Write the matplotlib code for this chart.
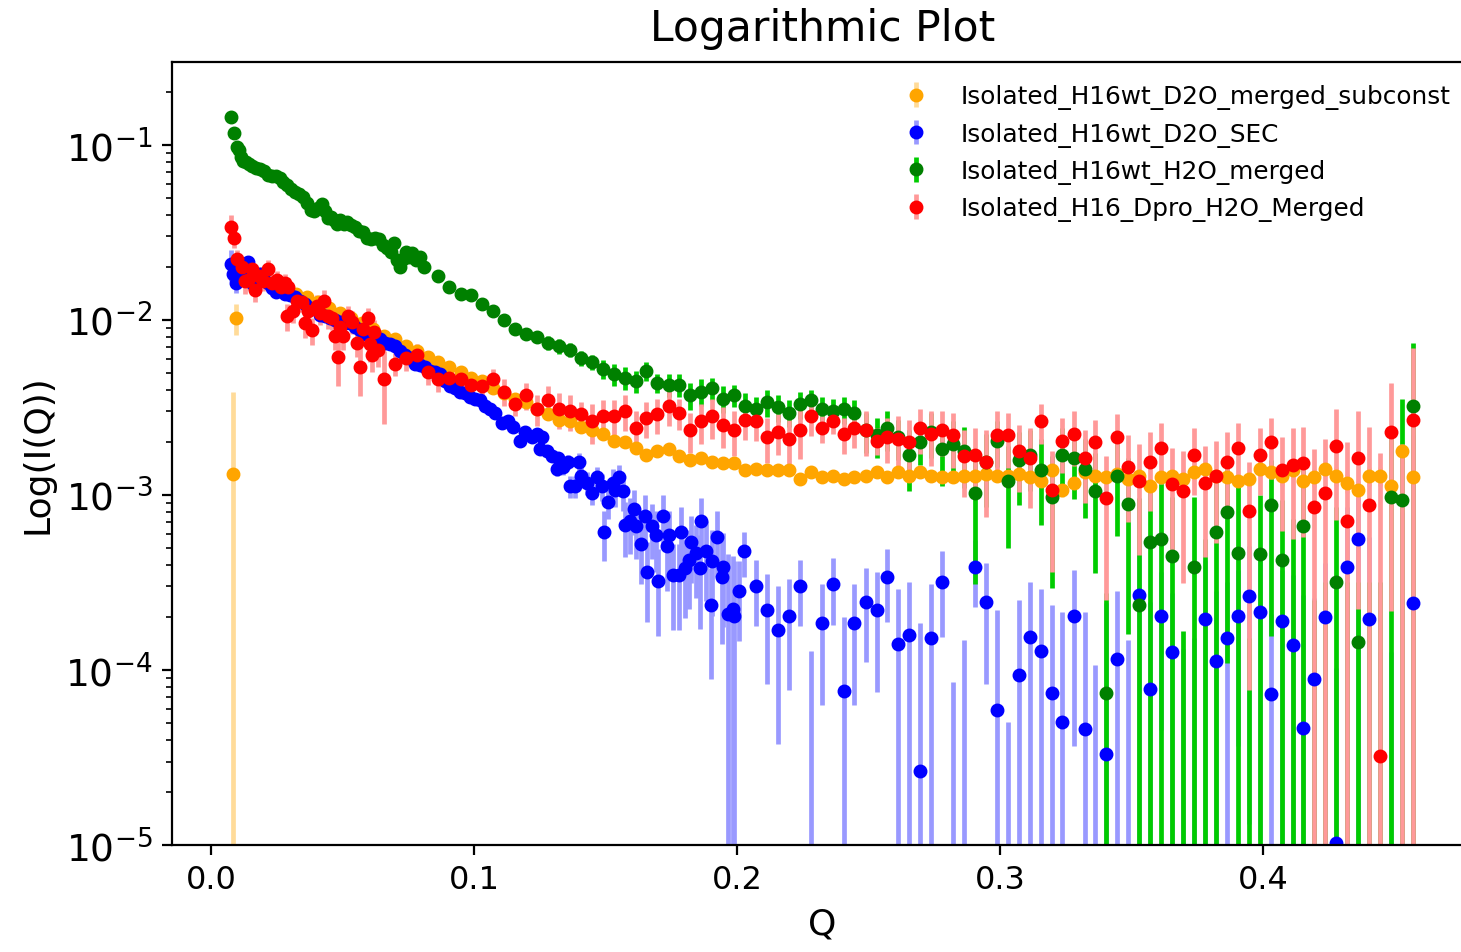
import numpy as np
import matplotlib
matplotlib.use("Agg")
import matplotlib.pyplot as plt

# shared Q grid used by all merged data sets (Q > ~0.01)
q_grid = [0.0116, 0.0158, 0.0199, 0.0241, 0.0283, 0.0324, 0.0366, 0.0408, 0.0449, 0.0491,
          0.0532, 0.0574, 0.0616, 0.0657, 0.0699, 0.0741, 0.0782, 0.0824, 0.0865, 0.0907,
          0.0949, 0.0990,
          0.1032, 0.1074, 0.1115, 0.1157, 0.1199, 0.1240, 0.1282, 0.1323, 0.1365, 0.1407,
          0.1448, 0.1490, 0.1532, 0.1573, 0.1615, 0.1656, 0.1698, 0.1740, 0.1781, 0.1823,
          0.1865, 0.1906, 0.1948, 0.1989, 0.2031, 0.2073, 0.2114, 0.2156, 0.2198, 0.2239,
          0.2281, 0.2323, 0.2364, 0.2406, 0.2447, 0.2489, 0.2531, 0.2572, 0.2614, 0.2656,
          0.2697, 0.2739, 0.2780, 0.2822, 0.2864, 0.2905, 0.2947, 0.2989, 0.3030, 0.3072,
          0.3114, 0.3155, 0.3197, 0.3238, 0.3280, 0.3322, 0.3363, 0.3405, 0.3447, 0.3488,
          0.3530, 0.3571, 0.3613, 0.3655, 0.3696, 0.3738, 0.3780, 0.3821, 0.3863, 0.3904,
          0.3946, 0.3988, 0.4029, 0.4071, 0.4113, 0.4154, 0.4196, 0.4237, 0.4279, 0.4321,
          0.4362, 0.4404, 0.4446, 0.4487, 0.4529, 0.4571]

# values are log10(I); "up" is the length of the upper error bar in decades
# (-6 = point below the plotted range, only its error bar shows)

# Isolated_H16wt_D2O_merged_subconst
orange_q = [0.0084, 0.0095] + q_grid
orange_log = [-2.88, -1.99,
              -1.72, -1.74, -1.77, -1.79, -1.82, -1.85, -1.87, -1.90, -1.93, -1.96,
              -1.99, -2.02, -2.05, -2.09, -2.11, -2.15, -2.18, -2.21, -2.24, -2.27,
              -2.30, -2.33,
              -2.35, -2.39, -2.42, -2.45, -2.47, -2.51, -2.54, -2.57, -2.58, -2.61,
              -2.63, -2.65, -2.69, -2.70, -2.73, -2.77, -2.75, -2.74, -2.78, -2.80,
              -2.79, -2.81, -2.82, -2.82, -2.86, -2.85, -2.86, -2.86, -2.86, -2.91,
              -2.87, -2.90, -2.89, -2.91, -2.90, -2.89, -2.87, -2.90, -2.87, -2.89,
              -2.87, -2.89, -2.90, -2.90, -2.89, -2.89, -2.88, -2.89, -2.89, -2.88,
              -2.90, -2.92, -2.86, -2.97, -2.93, -2.87, -2.89, -2.90, -2.88, -2.91,
              -2.89, -2.95, -2.90, -2.89, -2.91, -2.87, -2.85, -2.89, -2.90, -2.92,
              -2.91, -2.85, -2.87, -2.89, -2.86, -2.92, -2.90, -2.85, -2.89, -2.93,
              -2.97, -2.89, -2.89, -2.95, -2.75, -2.90]
orange_up = [0.47, 0.08,
             0.02, 0.02, 0.02, 0.02, 0.02, 0.02, 0.02, 0.02, 0.02, 0.02,
             0.02, 0.02, 0.02, 0.02, 0.02, 0.02, 0.02, 0.02, 0.02, 0.02,
             0.02, 0.02,
             0.02, 0.02, 0.02, 0.02, 0.02, 0.02, 0.02, 0.02, 0.02, 0.02,
             0.02, 0.02, 0.02, 0.02, 0.02, 0.02, 0.02, 0.02, 0.02, 0.02,
             0.02, 0.02, 0.02, 0.02, 0.02, 0.02, 0.02, 0.02, 0.02, 0.03,
             0.03, 0.03, 0.03, 0.03, 0.03, 0.03, 0.03, 0.03, 0.03, 0.03,
             0.03, 0.03, 0.03, 0.03, 0.03, 0.03, 0.03, 0.03, 0.03, 0.03,
             0.03, 0.03, 0.03, 0.04, 0.03, 0.03, 0.03, 0.03, 0.03, 0.03,
             0.03, 0.04, 0.04, 0.04, 0.04, 0.04, 0.04, 0.04, 0.04, 0.04,
             0.04, 0.04, 0.04, 0.05, 0.04, 0.05, 0.05, 0.04, 0.05, 0.05,
             0.05, 0.05, 0.05, 0.06, 0.06, 0.05]

# Isolated_H16wt_D2O_SEC
blue_q = [0.0077, 0.0085, 0.0095, 0.0110, 0.0125, 0.0141, 0.0156, 0.0171, 0.0186, 0.0202,
          0.0217, 0.0232, 0.0247, 0.0262, 0.0281, 0.0300, 0.0319, 0.0338, 0.0357, 0.0376,
          0.0395, 0.0414, 0.0433, 0.0452, 0.0471, 0.0490, 0.0510, 0.0529, 0.0548, 0.0567,
          0.0586, 0.0605, 0.0624, 0.0643, 0.0662, 0.0681, 0.0700, 0.0719, 0.0738, 0.0757,
          0.0776, 0.0795, 0.0814, 0.0833, 0.0852, 0.0871, 0.0890, 0.0909, 0.0928, 0.0947,
          0.0966, 0.0985, 0.1004, 0.1023, 0.1042, 0.1061, 0.1080,
          0.1106, 0.1129, 0.1148, 0.1175, 0.1194, 0.1221, 0.1240, 0.1251, 0.1259, 0.1278,
          0.1297, 0.1316, 0.1319, 0.1338, 0.1357, 0.1365, 0.1384, 0.1399, 0.1407, 0.1430,
          0.1449, 0.1468, 0.1487, 0.1494, 0.1510, 0.1529, 0.1536, 0.1551, 0.1567, 0.1574,
          0.1593, 0.1608, 0.1616, 0.1635, 0.1650, 0.1658, 0.1677, 0.1692, 0.1700, 0.1719,
          0.1734, 0.1741, 0.1757, 0.1779, 0.1787, 0.1802, 0.1817, 0.1825, 0.1844, 0.1859,
          0.1863, 0.1882, 0.1901, 0.1905, 0.1924, 0.1943, 0.1947, 0.1966, 0.1985, 0.1989,
          0.2008, 0.2027] + q_grid[47:]
blue_log = [-1.68, -1.74, -1.79, -1.72, -1.75, -1.67, -1.79, -1.77, -1.74, -1.77,
            -1.79, -1.82, -1.84, -1.83, -1.85, -1.86, -1.87, -1.89, -1.91, -1.93,
            -1.94, -1.97, -1.98, -1.99, -2.00, -2.01, -2.02, -2.02, -2.04, -2.06,
            -2.08, -2.09, -2.10, -2.11, -2.13, -2.14, -2.15, -2.18, -2.20, -2.22,
            -2.25, -2.26, -2.27, -2.29, -2.30, -2.31, -2.35, -2.38, -2.39, -2.41,
            -2.42, -2.44, -2.45, -2.46, -2.49, -2.51, -2.53,
            -2.59, -2.58, -2.61, -2.69, -2.64, -2.67, -2.65, -2.74, -2.67, -2.75,
            -2.78, -2.85, -2.79, -2.84, -2.81, -2.95, -2.95, -2.81, -2.89, -2.93,
            -2.99, -2.90, -2.95, -3.21, -3.04, -2.93, -2.97, -2.90, -2.98, -3.17,
            -3.15, -3.08, -3.18, -3.28, -3.12, -3.44, -3.18, -3.23, -3.49, -3.12,
            -3.29, -3.23, -3.46, -3.46, -3.21, -3.42, -3.37, -3.27, -3.33, -3.42,
            -3.15, -3.32, -3.63, -3.38, -3.24, -3.47, -3.41, -3.68, -3.65, -3.69,
            -3.55, -3.32,
            -3.52, -3.66, -3.77, -3.69, -3.52,
            -6, -3.73, -3.51, -4.12, -3.73, -3.61, -3.66, -3.47, -3.85, -3.80,
            -4.58, -3.82, -3.50, -6, -6, -3.41, -3.61, -4.23, -6, -4.03,
            -3.81, -3.89, -4.13, -4.30, -3.69, -4.34, -6, -4.48, -3.94, -6,
            -3.57, -4.11, -3.69, -3.90, -6, -6, -3.71, -3.95, -3.82, -3.69,
            -3.58, -3.67, -4.14, -3.72, -3.86, -4.33, -4.05, -3.70, -4.99, -3.41,
            -3.25, -3.71, -6, -6, -6, -3.62]
blue_up = [0.08, 0.06, 0.05, 0.03, 0.03, 0.03, 0.03, 0.03, 0.02, 0.02,
           0.02, 0.02, 0.02, 0.02, 0.02, 0.02, 0.02, 0.02, 0.02, 0.02,
           0.02, 0.02, 0.02, 0.02, 0.02, 0.02, 0.02, 0.02, 0.02, 0.02,
           0.02, 0.02, 0.02, 0.02, 0.02, 0.02, 0.02, 0.02, 0.02, 0.02,
           0.02, 0.02, 0.02, 0.02, 0.02, 0.02, 0.02, 0.02, 0.02, 0.02,
           0.02, 0.02, 0.02, 0.02, 0.02, 0.02, 0.02,
           0.02, 0.02, 0.02, 0.03, 0.02, 0.03, 0.03, 0.03, 0.03, 0.03,
           0.03, 0.04, 0.03, 0.04, 0.04, 0.06, 0.06, 0.05, 0.06, 0.06,
           0.06, 0.06, 0.07, 0.12, 0.08, 0.08, 0.08, 0.07, 0.09, 0.13,
           0.13, 0.11, 0.13, 0.15, 0.12, 0.17, 0.13, 0.14, 0.18, 0.12,
           0.16, 0.14, 0.18, 0.18, 0.14, 0.17, 0.17, 0.15, 0.16, 0.19,
           0.13, 0.17, 0.21, 0.18, 0.15, 0.20, 0.19, 0.34, 0.30, 0.31,
           0.17, 0.11,
           0.15, 0.21, 0.25, 0.21, 0.15,
           2.11, 0.22, 0.15, 0.42, 0.22, 0.19, 0.22, 0.16, 0.31, 0.30,
           0.85, 0.31, 0.18, 1.93, 2.17, 0.15, 0.22, 0.57, 1.70, 0.43,
           0.31, 0.35, 0.50, 0.63, 0.26, 0.67, 2.03, 0.86, 0.39, 2.17,
           0.34, 0.50, 0.25, 0.34, 2.12, 2.18, 0.34, 0.40, 0.32, 0.26,
           0.29, 0.29, 0.46, 0.29, 0.40, 0.76, 0.46, 0.31, 1.00, 0.34,
           0.31, 0.47, 2.10, 2.10, 2.90, 0.96]

# Isolated_H16wt_H2O_merged
green_q = [0.0076, 0.0087, 0.0099, 0.0106, 0.0114, 0.0122, 0.0133, 0.0144, 0.0156, 0.0171,
           0.0186, 0.0202, 0.0217, 0.0232, 0.0247, 0.0262, 0.0274, 0.0289, 0.0304, 0.0319,
           0.0335, 0.0350, 0.0365, 0.0380, 0.0392, 0.0407, 0.0422, 0.0433, 0.0445, 0.0456,
           0.0468, 0.0479, 0.0490, 0.0506, 0.0517, 0.0532, 0.0548, 0.0563, 0.0578, 0.0593,
           0.0608, 0.0624, 0.0639, 0.0654, 0.0669, 0.0684, 0.0696, 0.0707, 0.0719, 0.0730,
           0.0741, 0.0753, 0.0764, 0.0779, 0.0795, 0.0810] + q_grid[18:]
green_log = [-0.84, -0.93, -1.01, -1.03, -1.07, -1.09, -1.10, -1.11, -1.12, -1.13,
             -1.14, -1.15, -1.17, -1.18, -1.18, -1.19, -1.21, -1.23, -1.25, -1.27,
             -1.28, -1.30, -1.33, -1.37, -1.38, -1.36, -1.34, -1.38, -1.42, -1.41,
             -1.43, -1.45, -1.43, -1.45, -1.44, -1.46, -1.47, -1.49, -1.50, -1.53,
             -1.54, -1.53, -1.54, -1.57, -1.59, -1.61, -1.56, -1.66, -1.70, -1.65,
             -1.61, -1.64, -1.62, -1.66, -1.64, -1.70,
             -1.75, -1.81, -1.85, -1.86,
             -1.91, -1.95, -2.00, -2.05, -2.08, -2.10, -2.13, -2.15, -2.17, -2.22,
             -2.24, -2.28, -2.31, -2.33, -2.35, -2.29, -2.36, -2.37, -2.37, -2.43,
             -2.41, -2.39, -2.45, -2.43, -2.49, -2.51, -2.47, -2.50, -2.53, -2.48,
             -2.46, -2.51, -2.52, -2.51, -2.53, -2.63, -2.66, -2.62, -2.67, -2.77,
             -2.70, -2.64, -2.74, -2.71, -2.75, -2.99, -2.81, -2.69, -2.92, -2.80,
             -2.77, -2.86, -3.01, -2.77, -2.79, -2.85, -2.98, -4.13, -2.89, -3.05,
             -3.63, -3.27, -3.25, -3.35, -6, -3.41, -6, -3.21, -3.10, -3.33,
             -6, -3.34, -3.06, -3.37, -6, -3.18, -6, -6, -3.50, -6,
             -3.84, -6, -6, -3.01, -3.03, -2.49]
green_up = [0.01, 0.01, 0.01, 0.01, 0.01, 0.01, 0.01, 0.01, 0.01, 0.01,
            0.01, 0.01, 0.01, 0.01, 0.01, 0.01, 0.01, 0.01, 0.01, 0.01,
            0.01, 0.01, 0.02, 0.02, 0.02, 0.02, 0.02, 0.02, 0.02, 0.02,
            0.02, 0.02, 0.02, 0.02, 0.02, 0.02, 0.02, 0.02, 0.02, 0.02,
            0.02, 0.02, 0.02, 0.02, 0.02, 0.02, 0.03, 0.03, 0.03, 0.03,
            0.03, 0.03, 0.03, 0.03, 0.03, 0.03,
            0.02, 0.02, 0.02, 0.02,
            0.02, 0.02, 0.02, 0.03, 0.03, 0.03, 0.04, 0.04, 0.04, 0.04,
            0.04, 0.05, 0.06, 0.06, 0.06, 0.05, 0.05, 0.06, 0.06, 0.07,
            0.07, 0.06, 0.07, 0.06, 0.07, 0.07, 0.07, 0.07, 0.07, 0.07,
            0.06, 0.07, 0.07, 0.07, 0.07, 0.10, 0.10, 0.10, 0.10, 0.14,
            0.10, 0.11, 0.14, 0.13, 0.14, 0.23, 0.16, 0.11, 0.20, 0.16,
            0.14, 0.18, 0.23, 0.15, 0.15, 0.17, 0.22, 0.57, 0.19, 0.26,
            0.61, 0.34, 0.32, 0.34, 2.22, 0.40, 2.75, 0.34, 0.27, 0.38,
            2.18, 0.34, 0.26, 0.34, 2.86, 0.34, 2.40, 2.50, 0.43, 2.50,
            0.34, 2.50, 2.50, 0.37, 0.58, 0.36]

# Isolated_H16_Dpro_H2O_Merged
red_q = [0.0076, 0.0087, 0.0099, 0.0118, 0.0129, 0.0141, 0.0156, 0.0167, 0.0183, 0.0198,
         0.0217, 0.0232, 0.0251, 0.0266, 0.0281, 0.0289, 0.0293, 0.0312, 0.0327, 0.0346,
         0.0357, 0.0369, 0.0384, 0.0403, 0.0414, 0.0430, 0.0445, 0.0460, 0.0471, 0.0483,
         0.0490, 0.0502, 0.0521, 0.0536, 0.0555, 0.0567, 0.0578, 0.0597, 0.0605, 0.0612,
         0.0620, 0.0635] + q_grid[13:]
red_log = [-1.47, -1.53, -1.65, -1.70, -1.78, -1.77, -1.71, -1.83, -1.75, -1.78,
           -1.71, -1.79, -1.77, -1.81, -1.79, -1.98, -1.81, -1.95, -1.89, -1.90,
           -2.02, -1.95, -2.06, -1.92, -1.96, -1.89, -1.98, -1.99, -2.09, -2.21,
           -2.04, -2.09, -1.98, -2.01, -2.13, -2.27, -2.05, -1.99, -2.14, -2.20,
           -2.07, -2.17,
           -2.34, -2.25, -2.22, -2.20, -2.30, -2.34, -2.33, -2.34, -2.37,
           -2.38, -2.34, -2.41, -2.48, -2.43, -2.51, -2.46, -2.51, -2.52, -2.54,
           -2.58, -2.55, -2.55, -2.52, -2.62, -2.56, -2.54, -2.49, -2.53, -2.63,
           -2.58, -2.55, -2.60, -2.63, -2.57, -2.58, -2.67, -2.64, -2.68, -2.63,
           -2.55, -2.62, -2.58, -2.65, -2.62, -2.63, -2.69, -2.67, -2.68, -2.70,
           -2.62, -2.65, -2.63, -2.66, -2.78, -2.77, -2.81, -2.66, -2.66, -2.75,
           -2.79, -2.58, -2.97, -2.69, -2.65, -2.79, -2.70, -3.02, -2.67, -2.84,
           -2.92, -2.81, -2.73, -2.94, -2.98, -2.77, -2.93, -2.89, -2.81, -2.73,
           -3.09, -2.77, -2.70, -2.86, -2.83, -2.82, -3.07, -2.99, -2.72, -3.15,
           -2.79, -3.06, -4.49, -2.64, -6, -2.57]
red_up = [0.07, 0.05, 0.05, 0.05, 0.06, 0.05, 0.05, 0.06, 0.05, 0.05,
          0.05, 0.05, 0.05, 0.05, 0.05, 0.07, 0.05, 0.06, 0.05, 0.05,
          0.07, 0.06, 0.07, 0.06, 0.06, 0.06, 0.06, 0.06, 0.07, 0.12,
          0.06, 0.07, 0.06, 0.06, 0.07, 0.12, 0.06, 0.06, 0.08, 0.08,
          0.07, 0.08,
          0.16, 0.06, 0.06, 0.06, 0.06, 0.06, 0.06, 0.06, 0.06,
          0.06, 0.06, 0.07, 0.06, 0.07, 0.08, 0.08, 0.09, 0.09, 0.07,
          0.10, 0.09, 0.09, 0.09, 0.10, 0.09, 0.09, 0.09, 0.08, 0.10,
          0.10, 0.10, 0.10, 0.11, 0.09, 0.09, 0.11, 0.10, 0.11, 0.12,
          0.09, 0.07, 0.06, 0.09, 0.09, 0.11, 0.07, 0.11, 0.13, 0.13,
          0.11, 0.13, 0.11, 0.13, 0.15, 0.15, 0.18, 0.14, 0.13, 0.15,
          0.17, 0.10, 0.22, 0.13, 0.13, 0.16, 0.13, 0.24, 0.13, 0.18,
          0.21, 0.17, 0.14, 0.21, 0.23, 0.15, 0.21, 0.20, 0.17, 0.14,
          0.28, 0.15, 0.14, 0.19, 0.21, 0.21, 0.33, 0.31, 0.21, 0.45,
          0.27, 0.45, 1.73, 0.28, 3.29, 0.41]

labels = ["Isolated_H16wt_D2O_merged_subconst", "Isolated_H16wt_D2O_SEC",
          "Isolated_H16wt_H2O_merged", "Isolated_H16_Dpro_H2O_Merged"]
colors = ["orange", "blue", "green", "red"]
bar_colors = ["#ffdb99", "#9999ff", "#00cc00", "#ff9999"]


def to_linear(log_i, up):
    i = 10.0 ** np.array(log_i)
    err = i * (10.0 ** np.array(up) - 1.0)
    return i, err


fig = plt.figure(figsize=(7.305, 4.765), dpi=200)
ax = fig.add_axes([172 / 1461, 107 / 953, 1300.5 / 1461, 783 / 953])
ax.set_yscale("log")

sets = [(orange_q, orange_log, orange_up), (blue_q, blue_log, blue_up),
        (green_q, green_log, green_up), (red_q, red_log, red_up)]
for (q, lg, up), lab, c, ec in zip(sets, labels, colors, bar_colors):
    i, err = to_linear(lg, up)
    ax.errorbar(q, i, yerr=err, fmt="o", color=c, ecolor=ec, elinewidth=1.7,
                markersize=4, label=lab)

ax.set_ylim(1e-5, 0.298)
ax.set_xlim(-0.0148, 0.4797)
ax.tick_params(axis="x", labelsize=11.5)
ax.tick_params(axis="y", labelsize=13.5)
ax.set_xlabel("Q", fontsize=13)
ax.set_ylabel("Log(I(Q))", fontsize=13)
ax.set_title("Logarithmic Plot", fontsize=15.3, pad=8)
ax.legend(loc="upper right", frameon=False, fontsize=8.9)

fig.savefig("out.png", dpi=200)
